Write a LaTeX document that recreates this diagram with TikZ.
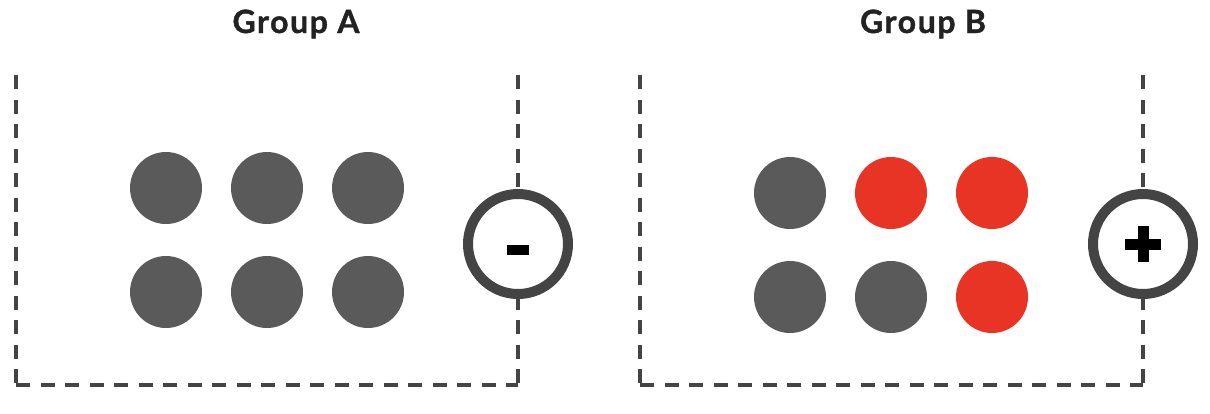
\documentclass[tikz,border=0pt]{standalone}
\usepackage{fontspec}
\setmainfont{Lato}
\definecolor{dotgray}{HTML}{5A5A5A}
\definecolor{dotred}{HTML}{E83424}
\definecolor{linegray}{HTML}{444444}
\definecolor{titlecol}{HTML}{222222}
\begin{document}
\begin{tikzpicture}[x=1pt,y=-1pt,
  dot/.style={circle,minimum size=72pt,inner sep=0pt,draw=none},
  graydot/.style={dot,fill=dotgray},
  reddot/.style={dot,fill=dotred},
  boxline/.style={draw=linegray,line width=3.5pt,dash pattern=on 14pt off 10.5pt},
  ring/.style={circle,minimum size=100pt,inner sep=0pt,draw=linegray,line width=10pt,fill=white},
  title/.style={font=\bfseries\fontsize{32}{36}\selectfont\addfontfeature{LetterSpace=5,FakeBold=1.2},text=titlecol,inner sep=0pt,anchor=base}]
\useasboundingbox (0,0) rectangle (1210,413);
% Group A
\node[title] (tA) at (296,33) {Group A};
\coordinate (a1) at (16,75);
\coordinate (a2) at (16,385);
\coordinate (a3) at (518,385);
\coordinate (a4) at (518,75);
\draw[boxline] (a1) -- (a2);
\draw[boxline] (a2) -- (a3);
\draw[boxline] (a4) -- (a3);
\node[ring] (rA) at (518,244) {};
\fill (rA.center) ++(-11,1) rectangle ++(22,10);
\node[graydot] (A11) at (166,188) {};
\node[graydot] (A12) at (267,188) {};
\node[graydot] (A13) at (368,188) {};
\node[graydot] (A21) at (166,292) {};
\node[graydot] (A22) at (267,292) {};
\node[graydot] (A23) at (368,292) {};
% Group B
\node[title] (tB) at (923,33) {Group B};
\coordinate (b1) at (640,75);
\coordinate (b2) at (640,385);
\coordinate (b3) at (1143,385);
\coordinate (b4) at (1143,75);
\draw[boxline] (b1) -- (b2);
\draw[boxline] (b2) -- (b3);
\draw[boxline] (b4) -- (b3);
\node[ring] (rB) at (1143,244) {};
\fill (rB.center) ++(-18,-5.5) rectangle ++(36,11);
\fill (rB.center) ++(-5.5,-18) rectangle ++(11,36);
\node[graydot] (B11) at (790,193) {};
\node[reddot] (B12) at (891,193) {};
\node[reddot] (B13) at (992,193) {};
\node[graydot] (B21) at (790,297) {};
\node[graydot] (B22) at (891,297) {};
\node[reddot] (B23) at (992,297) {};
\end{tikzpicture}
\end{document}
